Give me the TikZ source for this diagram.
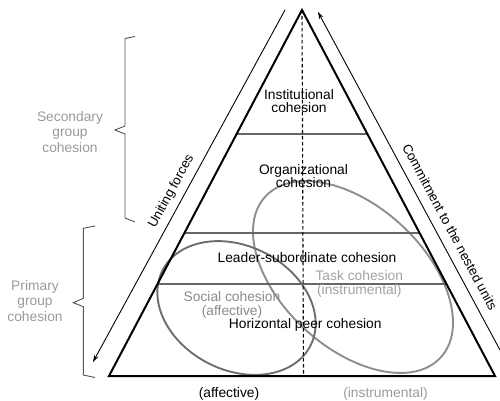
\documentclass[tikz,border=0pt]{standalone}
\usepackage{fontspec}
\setmainfont{Liberation Sans}
\usetikzlibrary{arrows.meta,calc}
\definecolor{lightlabel}{HTML}{9A9A9A}
\definecolor{tasklabel}{HTML}{A2A2A2}
\definecolor{sociallabel}{HTML}{8A8A8A}
\definecolor{socialring}{HTML}{6E6E6E}
\definecolor{taskring}{HTML}{8E8E8E}
\definecolor{layerline}{HTML}{666666}
\definecolor{bracecol}{HTML}{555555}
\begin{document}
\begin{tikzpicture}[x=1pt,y=-1pt,
  lbl/.style={font=\fontsize{13.8}{13.2}\selectfont, align=center, inner sep=0pt, text=black},
  rotlbl/.style={font=\fontsize{13.2}{13.2}\selectfont, inner sep=0pt, text=black},
  sidelbl/.style={font=\fontsize{13.8}{15.4}\selectfont, align=center, inner sep=0pt, text=lightlabel},
  tri/.style={draw=black, line width=2pt, line join=miter},
  layer/.style={draw=layerline, line width=1.2pt},
  axisline/.style={draw=black, line width=1.1pt, dash pattern=on 3.5pt off 2.5pt},
  flow/.style={draw=black, line width=0.9pt, -{Stealth[length=7pt,width=4.5pt]}},
  bracepath/.style={draw=bracecol, line width=0.9pt, line join=miter},
  socialell/.style={draw=socialring, line width=1.9pt},
  taskell/.style={draw=taskring, line width=1.9pt}
]
\useasboundingbox (0,0) rectangle (500,401);

% pyramid corners
\coordinate (apex) at (302,10);
\coordinate (bl) at (109,376);
\coordinate (br) at (495,376);

% ellipses
\draw[taskell, rotate around={-42.5:(353,277)}] (353,277) ellipse [x radius=119, y radius=71];
\draw[socialell, rotate around={-27:(236.5,308)}] (236.5,308) ellipse [x radius=83, y radius=62];

% layer lines
\coordinate (l1a) at ($(apex)!0.3388!(bl)$);
\coordinate (l1b) at ($(apex)!0.3388!(br)$);
\coordinate (l2a) at ($(apex)!0.6093!(bl)$);
\coordinate (l2b) at ($(apex)!0.6093!(br)$);
\coordinate (l3a) at ($(apex)!0.7486!(bl)$);
\coordinate (l3b) at ($(apex)!0.7486!(br)$);
\draw[layer] (l1a) -- (l1b);
\draw[layer] (l2a) -- (l2b);
\draw[layer] (l3a) -- (l3b);

% dashed axis
\coordinate (axbot) at (303.5,375);
\draw[axisline] (apex) -- (axbot);

% pyramid
\draw[tri] (apex) -- (bl) -- (br) -- cycle;

% side arrows
\coordinate (ufTop) at (285,10);
\coordinate (ufBot) at (93,362);
\draw[flow] (ufTop) -- (ufBot);
\coordinate (cmBot) at (500,350);
\coordinate (cmTop) at (318,12);
\draw[flow] (cmBot) -- (cmTop);

\node[rotlbl, rotate=61.4] (uniting) at (171.5,191.5) {Uniting forces};
\node[rotlbl, rotate=-61.8] (commit) at (450,227) {Commitment to the nested units};

% braces
\coordinate (b1a) at (135,36.5);
\coordinate (b1b) at (125,38.5);
\coordinate (b1c) at (125,126);
\coordinate (b1tip) at (115,130);
\coordinate (b1d) at (125,134);
\coordinate (b1e) at (125,218);
\coordinate (b1f) at (135,222);
\draw[bracepath] (b1a) -- (b1b) -- (b1c) -- (b1tip) -- (b1d) -- (b1e) -- (b1f);

\coordinate (b2a) at (95,226);
\coordinate (b2b) at (83.3,228.3);
\coordinate (b2c) at (83.3,298.3);
\coordinate (b2tip) at (73.3,302.7);
\coordinate (b2d) at (83.3,306.7);
\coordinate (b2e) at (83.3,375);
\coordinate (b2f) at (95,377.5);
\draw[bracepath] (b2a) -- (b2b) -- (b2c) -- (b2tip) -- (b2d) -- (b2e) -- (b2f);

\node[sidelbl] (secondary) at (70,132) {Secondary\\group\\cohesion};
\node[sidelbl] (primary) at (35,301) {Primary\\group\\cohesion};

% level labels
\node[lbl] (institutional) at (299,101) {Institutional\\cohesion};
\node[lbl] (organizational) at (303.5,176) {Organizational\\cohesion};
\node[lbl] (leader) at (307,257.5) {Leader-subordinate cohesion};
\node[lbl] (horizontal) at (305.3,325) {Horizontal peer cohesion};
\node[lbl, text=tasklabel] (task) at (359.3,284) {Task cohesion\\(instrumental)};
\node[lbl, text=sociallabel] (social) at (232,305) {Social cohesion\\(affective)};

% bottom labels
\node[lbl] (affbottom) at (229,394) {(affective)};
\node[lbl, text=lightlabel] (instbottom) at (385.5,394) {(instrumental)};
\end{tikzpicture}
\end{document}
